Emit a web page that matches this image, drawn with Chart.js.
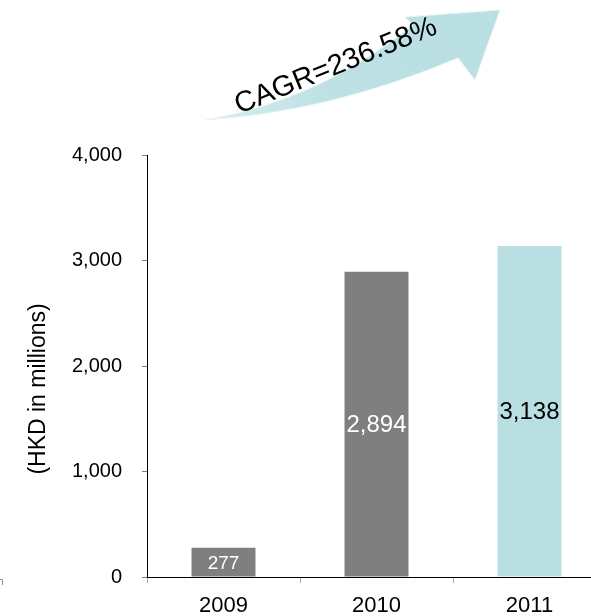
<!DOCTYPE html>
<html>
<head>
<meta charset="utf-8">
<script src="https://cdn.jsdelivr.net/npm/chart.js@4.4.0/dist/chart.umd.min.js"></script>
<style>
  html, body { margin: 0; padding: 0; background: #fff; overflow: hidden; }
  #wrap { width: 620px; height: 616px; }
</style>
</head>
<body>
<div id="wrap"><canvas id="revenueChart" width="620" height="616"></canvas></div>
<script>
const years = ["2009", "2010", "2011"];
const revenue = [277, 2894, 3138];
const barColors = ["#7f7f7f", "#7f7f7f", "#b9dfe3"];
const valueColors = ["#ffffff", "#ffffff", "#000000"];
const valueSizes = [19, 24, 24];
const yTicks = [0, 1000, 2000, 3000, 4000];
const axisTitle = "(HKD in millions)";
const cagrText = "CAGR=236.58%";

const FONT = "'Liberation Sans', Arial, sans-serif";
Chart.defaults.font.family = FONT;
Chart.defaults.color = "#000";

// growth arrow with the CAGR text, drawn behind the bars
const growthArrow = {
  id: "growthArrow",
  beforeDraw(chart) {
    const ctx = chart.ctx;
    ctx.save();
    const grad = ctx.createLinearGradient(205, 120, 500, 10);
    grad.addColorStop(0, "#d6edef");
    grad.addColorStop(0.4, "#bde1e4");
    grad.addColorStop(1, "#b9dfe3");
    ctx.fillStyle = grad;
    ctx.strokeStyle = "rgba(235,245,246,0.9)";
    ctx.lineWidth = 1;
    ctx.beginPath();
    ctx.moveTo(205, 120);
    ctx.quadraticCurveTo(320, 100, 413, 25);
    ctx.lineTo(405, 17);
    ctx.lineTo(500, 10);
    ctx.lineTo(475, 80);
    ctx.lineTo(458, 58);
    ctx.quadraticCurveTo(330, 112, 205, 120);
    ctx.closePath();
    ctx.fill();
    ctx.stroke();

    ctx.translate(239, 114);
    ctx.rotate(-22 * Math.PI / 180);
    ctx.font = "29px " + FONT;
    ctx.fillStyle = "#000";
    ctx.textAlign = "left";
    ctx.textBaseline = "alphabetic";
    ctx.fillText(cagrText, 0, 0);
    ctx.restore();

    // small stray tick at the lower left edge
    ctx.save();
    ctx.strokeStyle = "#8c8c8c";
    ctx.lineWidth = 1;
    ctx.beginPath();
    ctx.moveTo(0, 579.5);
    ctx.lineTo(2.5, 579.5);
    ctx.lineTo(2.5, 585);
    ctx.stroke();
    ctx.restore();
  }
};

// value labels in the middle of each bar, plus the rotated y title
const barLabels = {
  id: "barLabels",
  afterDatasetsDraw(chart) {
    const ctx = chart.ctx;
    const meta = chart.getDatasetMeta(0);
    ctx.save();
    ctx.textAlign = "center";
    ctx.textBaseline = "middle";
    meta.data.forEach((bar, i) => {
      ctx.font = valueSizes[i] + "px " + FONT;
      ctx.fillStyle = valueColors[i];
      ctx.fillText(revenue[i].toLocaleString("en-US"), bar.x, (bar.y + bar.base) / 2 + 1.5);
    });
    ctx.restore();

    ctx.save();
    ctx.translate(39, 389);
    ctx.rotate(-Math.PI / 2);
    ctx.font = "23px " + FONT;
    ctx.fillStyle = "#000";
    ctx.textAlign = "center";
    ctx.textBaseline = "middle";
    ctx.fillText(axisTitle, 0, 0);
    ctx.restore();
  }
};

new Chart(document.getElementById("revenueChart").getContext("2d"), {
  type: "bar",
  data: {
    labels: years,
    datasets: [{
      data: revenue,
      backgroundColor: barColors,
      borderWidth: 0,
      barPercentage: 0.418,
      categoryPercentage: 1
    }]
  },
  options: {
    responsive: false,
    animation: false,
    devicePixelRatio: 1,
    layout: { padding: { left: 0, top: 155, right: 14, bottom: 0 } },
    plugins: {
      legend: { display: false },
      tooltip: { enabled: false }
    },
    scales: {
      x: {
        afterFit(axis) { axis.height = 39; },
        grid: { drawOnChartArea: false, drawTicks: true, tickLength: 6, color: "#a6a6a6" },
        border: { color: "#000", width: 1 },
        ticks: { font: { size: 22 }, color: "#000", padding: 10 }
      },
      y: {
        min: yTicks[0],
        max: yTicks[yTicks.length - 1],
        afterFit(axis) { axis.width = 147; },
        afterBuildTicks(axis) { axis.ticks = yTicks.map(v => ({ value: v })); },
        grid: { drawOnChartArea: false, drawTicks: true, tickLength: 5, color: "#7f7f7f" },
        border: { color: "#000", width: 1 },
        ticks: { font: { size: 20 }, color: "#000", padding: 20 }
      }
    }
  },
  plugins: [growthArrow, barLabels]
});
</script>
</body>
</html>
